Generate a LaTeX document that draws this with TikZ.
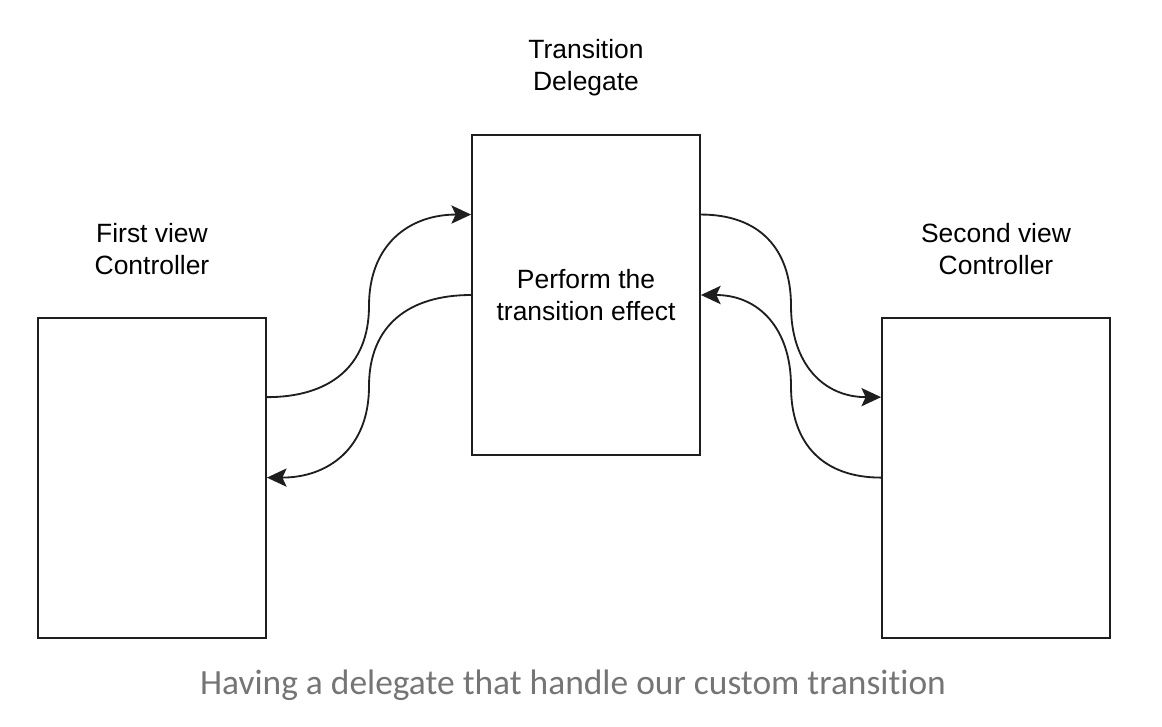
\documentclass[tikz,border=0pt]{standalone}
\usepackage{fontspec}
\setmainfont{Liberation Sans}
\newfontfamily\captionfont{Carlito}[Ligatures=NoCommon]
\usepackage{tikz}
\usetikzlibrary{arrows.meta,positioning,calc}
\usepackage{xcolor}
\definecolor{tdgray}{RGB}{117,117,117}
\definecolor{tdline}{RGB}{30,30,30}
\tikzstyle{vcbox} = [rectangle, draw=tdline, line width=1.3pt, minimum width=5.7cm, minimum height=8cm]
\tikzstyle{flow} = [line width=1.3pt, color=tdline, looseness=1.15, -{Stealth[length=14pt,width=13pt,inset=3pt]}]
\tikzstyle{lbl} = [align=center, inner sep=0pt, font=\fontsize{18.8}{22.7}\selectfont]

\begin{document}
\begin{tikzpicture}
    \useasboundingbox (0,0) rectangle (29.05,-18.15);

    % View controllers and delegate
    \node[vcbox] (first) at (3.8, -11.94) {};
    \node[vcbox, lbl] (delegate) at (14.65, -7.375) {Perform the\\transition effect};
    \node[vcbox] (second) at (24.9, -11.94) {};

    % Titles
    \node[lbl, above=1.05cm of first] (firsttitle) {First view\\Controller};
    \node[lbl, above=0.95cm of delegate] (delegatetitle) {Transition\\Delegate};
    \node[lbl, above=1.05cm of second] (secondtitle) {Second view\\Controller};

    % Attachment points
    \coordinate (firstout) at ($(first.north east)!0.25!(first.south east)$);
    \coordinate (delegatein) at ($(delegate.north west)!0.25!(delegate.south west)$);
    \coordinate (delegateout) at ($(delegate.north east)!0.25!(delegate.south east)$);
    \coordinate (secondin) at ($(second.north west)!0.25!(second.south west)$);

    % Connections
    \draw[flow] (firstout) to[out=0, in=-90] ($(firstout)!0.5!(delegatein)$) to[out=90, in=180] (delegatein);
    \draw[flow] (delegate.west) to[out=180, in=90] ($(delegate.west)!0.5!(first.east)$) to[out=-90, in=0] (first.east);
    \draw[flow] (delegateout) to[out=0, in=90] ($(delegateout)!0.5!(secondin)$) to[out=-90, in=180] (secondin);
    \draw[flow] (second.west) to[out=180, in=-90] ($(second.west)!0.5!(delegate.east)$) to[out=90, in=0] (delegate.east);

    % Caption
    \node[font=\captionfont\fontsize{25.2}{30}\selectfont, text=tdgray] (caption) at (14.325, -17.125) {Having a delegate that handle our custom transition};
\end{tikzpicture}
\end{document}
